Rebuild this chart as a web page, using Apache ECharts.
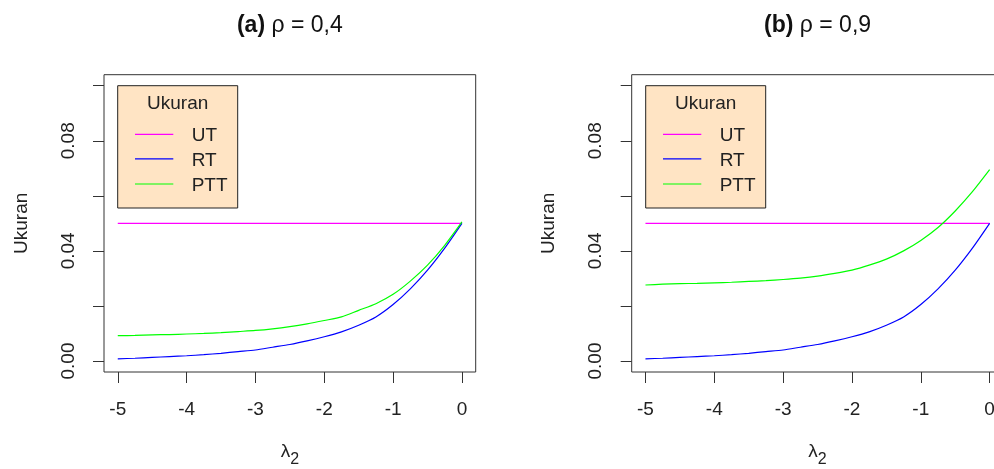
<!DOCTYPE html>
<html><head><meta charset="utf-8">
<script src="https://cdn.jsdelivr.net/npm/echarts@6/dist/echarts.min.js"></script>
<style>html,body{margin:0;padding:0;background:#fff}#c{width:994px;height:469px}</style>
</head><body><div id="c"></div><script>
const lambda2 = [-5,-4.75,-4.5,-4.25,-4,-3.75,-3.5,-3.25,-3,-2.75,-2.5,-2.25,-2,-1.75,-1.5,-1.25,-1,-0.75,-0.5,-0.25,0];
// panel (a) rho = 0,4
const utRho04  = [0.05,0.05,0.05,0.05,0.05,0.05,0.05,0.05,0.05,0.05,0.05,0.05,0.05,0.05,0.05,0.05,0.05,0.05,0.05,0.05,0.05];
const rtRho04  = [0.0008,0.0010,0.0013,0.0016,0.0019,0.0023,0.0028,0.0034,0.0040,0.0050,0.0060,0.0073,0.0088,0.0106,0.0130,0.0160,0.0205,0.0262,0.0330,0.0410,0.0500];
const pttRho04 = [0.0092,0.0093,0.0095,0.0096,0.0098,0.0100,0.0103,0.0107,0.0111,0.0117,0.0125,0.0135,0.0147,0.0160,0.0184,0.0208,0.0242,0.0290,0.0348,0.0420,0.0505];
// panel (b) rho = 0,9
const utRho09  = [0.05,0.05,0.05,0.05,0.05,0.05,0.05,0.05,0.05,0.05,0.05,0.05,0.05,0.05,0.05,0.05,0.05,0.05,0.05,0.05,0.05];
const rtRho09  = [0.0008,0.0010,0.0013,0.0016,0.0019,0.0023,0.0028,0.0034,0.0040,0.0050,0.0060,0.0073,0.0088,0.0106,0.0130,0.0160,0.0205,0.0262,0.0330,0.0410,0.0500];
const pttRho09 = [0.0276,0.0279,0.0281,0.0282,0.0284,0.0286,0.0289,0.0292,0.0296,0.0301,0.0308,0.0318,0.0330,0.0348,0.0370,0.0400,0.0438,0.0485,0.0545,0.0615,0.0695];

const panelTags = ['(a)', '(b)'];
const panelRho = ['\u03c1 = 0,4', '\u03c1 = 0,9'];
const seriesNames = ['UT', 'RT', 'PTT'];
const legendTitle = 'Ukuran';
const yAxisTitle = 'Ukuran';
const xTicks = [-5, -4, -3, -2, -1, 0];
const yTicks = [0, 0.02, 0.04, 0.06, 0.08, 0.10];
const yLabelTicks = [0, 0.04, 0.08];

const colors = ['#FF00FF', '#0000FF', '#00FF00'];
const FONT = 'Liberation Sans';
const panels = [
  {left: 104, legendX: 117.7, data: [utRho04, rtRho04, pttRho04]},
  {left: 631.7, legendX: 645.7, data: [utRho09, rtRho09, pttRho09]}
];
const GRID_TOP = 74.7, GRID_H = 297.3, GRID_W = 371.7;

const chart = echarts.init(document.getElementById('c'), null, {renderer: 'canvas'});

const grids = [], xAxes = [], yAxes = [], series = [], titles = [], graphics = [];
panels.forEach((p, i) => {
  grids.push({left: p.left, top: GRID_TOP, width: GRID_W, height: GRID_H, show: true,
    borderColor: '#333', borderWidth: 1, backgroundColor: 'transparent',
    containLabel: false, outerBoundsMode: 'none'});
  xAxes.push({
    type: 'value', gridIndex: i, min: -5.2, max: 0.2, position: 'bottom',
    axisLine: {show: false, onZero: false},
    axisTick: {show: true, customValues: xTicks, length: 11, lineStyle: {color: '#333'}},
    axisLabel: {customValues: xTicks, margin: 28, fontSize: 19, color: '#222', fontFamily: FONT,
      formatter: v => String(v)},
    splitLine: {show: false},
    name: '{l|\u03bb}{s|2}', nameLocation: 'middle', nameGap: 70,
    nameTextStyle: {color: '#222', fontFamily: FONT, rich: {
      l: {fontSize: 19, fontFamily: FONT, color: '#222', verticalAlign: 'bottom', padding: [0, 0, 7, 0]},
      s: {fontSize: 16, fontFamily: FONT, color: '#222', verticalAlign: 'bottom'}
    }}
  });
  yAxes.push({
    type: 'value', gridIndex: i, min: -0.004, max: 0.104, position: 'left',
    axisLine: {show: false, onZero: false},
    axisTick: {show: true, customValues: yTicks, length: 11, lineStyle: {color: '#333'}},
    axisLabel: {customValues: yLabelTicks, rotate: 90, margin: 26, fontSize: 19, color: '#222', fontFamily: FONT,
      formatter: v => v.toFixed(2)},
    splitLine: {show: false},
    name: yAxisTitle, nameLocation: 'middle', nameGap: 73, nameRotate: 90,
    nameTextStyle: {fontSize: 19, color: '#222', fontFamily: FONT}
  });
  p.data.forEach((arr, k) => {
    series.push({
      type: 'line', name: seriesNames[k], xAxisIndex: i, yAxisIndex: i,
      data: lambda2.map((x, j) => [x, arr[j]]),
      showSymbol: false, symbol: 'none', smooth: 0.25, animation: false,
      lineStyle: {color: colors[k], width: 1.2}, itemStyle: {color: colors[k]}, z: 3
    });
  });
  titles.push({text: '{b|' + panelTags[i] + '} {r|' + panelRho[i] + '}', left: p.left + GRID_W / 2 - 5, top: 9, textAlign: 'center',
    textStyle: {fontSize: 23, color: '#111', fontFamily: FONT, rich: {
      b: {fontSize: 23, fontWeight: 'bold', color: '#111', fontFamily: FONT},
      r: {fontSize: 23, fontWeight: 'normal', color: '#111', fontFamily: FONT}
    }}});
  // legend box
  const lx = p.legendX, ly = 85.7;
  graphics.push({type: 'rect', shape: {x: lx, y: ly, width: 120, height: 122.3},
    style: {fill: '#FFE4C4', stroke: '#222', lineWidth: 1}, z: 10});
  graphics.push({type: 'text', x: lx + 60, y: 104, z: 11,
    style: {text: legendTitle, fontSize: 19, fontFamily: FONT, fill: '#222', align: 'center', verticalAlign: 'middle'}});
  const itemY = [134.3, 158.9, 184];
  seriesNames.forEach((nm, k) => {
    graphics.push({type: 'line', shape: {x1: lx + 17.3, y1: itemY[k], x2: lx + 55.6, y2: itemY[k]},
      style: {stroke: colors[k], lineWidth: 1.2}, z: 11});
    graphics.push({type: 'text', x: lx + 74, y: itemY[k] + 1.5, z: 11,
      style: {text: nm, fontSize: 19, fontFamily: FONT, fill: '#222', align: 'left', verticalAlign: 'middle'}});
  });
});

chart.setOption({
  animation: false,
  backgroundColor: '#fff',
  title: titles,
  grid: grids,
  xAxis: xAxes,
  yAxis: yAxes,
  series: series,
  graphic: graphics
});
</script></body></html>
